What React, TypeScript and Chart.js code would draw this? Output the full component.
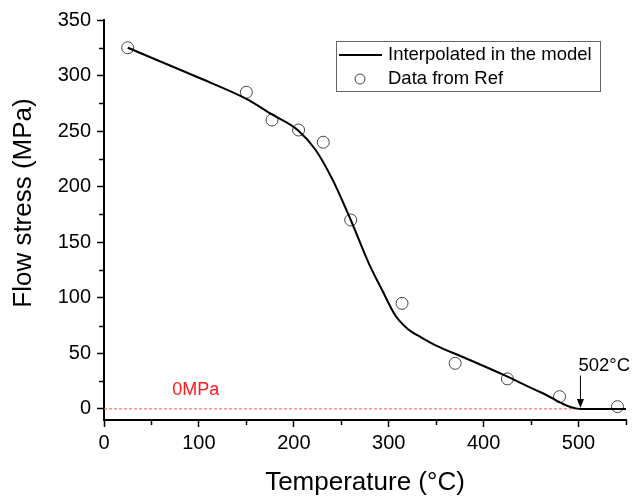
import React, { useEffect, useRef } from 'react';
import { Chart, registerables } from 'chart.js';

Chart.register(...registerables);

// ---- data ----
const curveTemps = [25, 100, 150, 177, 204, 223, 241, 260, 279, 293, 307, 320, 335, 350, 380, 420, 460, 502, 550];
const curveStress = [325, 298, 279, 265, 251, 233, 206, 170, 131, 107, 84, 72, 64, 57, 46, 31, 15, 0, 0];
const refTemps = [25, 150, 177, 205, 231, 260, 314, 370, 425, 480, 541];
const refStress = [325, 285, 260, 251, 240, 170, 95, 41, 27, 11, 2];
const zeroLineTemps = [0, 550];
const zeroLineStress = [0, 0];
const xTickValues = [0, 100, 200, 300, 400, 500];
const xMinorTickValues = [50, 150, 250, 350, 450, 550];
const yTickValues = [0, 50, 100, 150, 200, 250, 300, 350];
const yMinorTickValues = [25, 75, 125, 175, 225, 275, 325];
const seriesLabels = ['Interpolated in the model', 'Data from Ref', '0MPa'];
const zeroLabelPos = [72, 17];
const onsetLabel = '502°C';
const onsetTemp = 502;
const arrowTopStress = 30;
const xTitle = 'Temperature (°C)';
const yTitle = 'Flow stress (MPa)';
const xMin = 0, xMax = 550;
const yMin = -10, yMax = 350;

const FONT = '"Liberation Sans", Arial, Helvetica, sans-serif';

const decorPlugin = {
  id: 'decor',
  afterDraw(chart: any) {
    const { ctx, chartArea, scales } = chart;
    const x = scales.x, y = scales.y;
    ctx.save();
    // minor ticks
    ctx.strokeStyle = '#000';
    ctx.lineWidth = 1.5;
    ctx.beginPath();
    for (const v of xMinorTickValues) {
      const px = Math.round(x.getPixelForValue(v)) + 0.5;
      ctx.moveTo(px, chartArea.bottom);
      ctx.lineTo(px, chartArea.bottom + 5);
    }
    for (const v of yMinorTickValues) {
      const py = Math.round(y.getPixelForValue(v)) + 0.5;
      ctx.moveTo(chartArea.left - 5, py);
      ctx.lineTo(chartArea.left, py);
    }
    ctx.stroke();

    // zero label
    ctx.fillStyle = '#ff1a1a';
    ctx.font = `18px ${FONT}`;
    ctx.textAlign = 'left';
    ctx.textBaseline = 'middle';
    ctx.fillText(seriesLabels[2], x.getPixelForValue(zeroLabelPos[0]), y.getPixelForValue(zeroLabelPos[1]));

    // onset arrow
    const ax = x.getPixelForValue(onsetTemp);
    const ayTop = y.getPixelForValue(arrowTopStress);
    const ayTip = y.getPixelForValue(0) - 1;
    ctx.strokeStyle = '#000';
    ctx.lineWidth = 1;
    ctx.beginPath();
    ctx.moveTo(ax, ayTop);
    ctx.lineTo(ax, ayTip - 6);
    ctx.stroke();
    ctx.fillStyle = '#000';
    ctx.beginPath();
    ctx.moveTo(ax - 3.5, ayTip - 9);
    ctx.lineTo(ax + 3.5, ayTip - 9);
    ctx.lineTo(ax, ayTip);
    ctx.closePath();
    ctx.fill();
    ctx.font = `18.5px ${FONT}`;
    ctx.textAlign = 'left';
    ctx.textBaseline = 'middle';
    ctx.fillText(onsetLabel, ax - 2, ayTop - 10);

    // legend
    const lx = 336, ly = 41, lw = 264, lh = 50;
    ctx.strokeStyle = '#666';
    ctx.lineWidth = 1;
    ctx.strokeRect(lx + 0.5, ly + 0.5, lw, lh);
    ctx.strokeStyle = '#000';
    ctx.lineWidth = 2;
    ctx.beginPath();
    ctx.moveTo(lx + 3, ly + 14);
    ctx.lineTo(lx + 46, ly + 14);
    ctx.stroke();
    ctx.strokeStyle = '#444';
    ctx.lineWidth = 1;
    ctx.beginPath();
    ctx.arc(lx + 24, ly + 38, 5, 0, Math.PI * 2);
    ctx.stroke();
    ctx.fillStyle = '#000';
    ctx.font = `18.5px ${FONT}`;
    ctx.fillText(seriesLabels[0], lx + 52, ly + 14);
    ctx.fillText(seriesLabels[1], lx + 52, ly + 38);

    // axis titles
    ctx.font = `26px ${FONT}`;
    ctx.textAlign = 'center';
    ctx.textBaseline = 'middle';
    ctx.fillText(xTitle, (chartArea.left + chartArea.right) / 2, 483);
    ctx.translate(24, 203);
    ctx.rotate(-Math.PI / 2);
    ctx.fillText(yTitle, 0, 0);
    ctx.restore();
  },
};

export default function App() {
  const ref = useRef<HTMLCanvasElement>(null);
  useEffect(() => {
    document.body.style.margin = '0';
    const chart = new Chart(ref.current!, {
      type: 'line',
      data: {
        datasets: [
          {
            label: seriesLabels[0],
            data: curveTemps.map((t, i) => ({ x: t, y: curveStress[i] })),
            borderColor: '#000',
            borderWidth: 2,
            pointRadius: 0,
            cubicInterpolationMode: 'monotone',
            fill: false,
          },
          {
            label: seriesLabels[1],
            data: refTemps.map((t, i) => ({ x: t, y: refStress[i] })),
            showLine: false,
            pointStyle: 'circle',
            pointRadius: 6,
            pointBorderColor: '#444',
            pointBorderWidth: 1,
            pointBackgroundColor: 'rgba(0,0,0,0)',
            borderColor: '#444',
            backgroundColor: 'rgba(0,0,0,0)',
          },
          {
            label: seriesLabels[2],
            data: zeroLineTemps.map((t, i) => ({ x: t, y: zeroLineStress[i] })),
            borderColor: '#ff5555',
            borderWidth: 1,
            borderDash: [3, 2],
            pointRadius: 0,
          },
        ],
      } as any,
      options: {
        animation: false,
        responsive: false,
        devicePixelRatio: 1,
        layout: { padding: { top: 20, right: 6, left: 0, bottom: 0 } },
        plugins: { legend: { display: false }, tooltip: { enabled: false } },
        scales: {
          x: {
            type: 'linear',
            min: xMin,
            max: xMax,
            afterBuildTicks: (s: any) => { s.ticks = xTickValues.map((v) => ({ value: v })); },
            afterFit: (s: any) => { s.height = 78; },
            grid: {
              display: true,
              drawOnChartArea: false,
              drawTicks: true,
              tickLength: 7,
              tickWidth: 1.5,
              tickColor: '#000',
            },
            border: { display: true, color: '#000', width: 2 },
            ticks: {
              autoSkip: false,
              maxRotation: 0,
              padding: 4,
              color: '#000',
              font: { size: 20, family: FONT },
              callback: (v: any) => String(v),
            },
          },
          y: {
            type: 'linear',
            min: yMin,
            max: yMax,
            afterBuildTicks: (s: any) => { s.ticks = yTickValues.map((v) => ({ value: v })); },
            afterFit: (s: any) => { s.width = 104; },
            grid: {
              display: true,
              drawOnChartArea: false,
              drawTicks: true,
              tickLength: 7,
              tickWidth: 1.5,
              tickColor: '#000',
            },
            border: { display: true, color: '#000', width: 2 },
            ticks: {
              autoSkip: false,
              padding: 6,
              color: '#000',
              font: { size: 20, family: FONT },
              callback: (v: any) => String(v),
            },
          },
        },
      } as any,
      plugins: [decorPlugin],
    });
    return () => chart.destroy();
  }, []);
  return (
    <div style={{ position: 'fixed', left: 0, top: 0, width: 633, height: 498, background: '#fff' }}>
      <canvas ref={ref} width={633} height={498} style={{ display: 'block' }} />
    </div>
  );
}
